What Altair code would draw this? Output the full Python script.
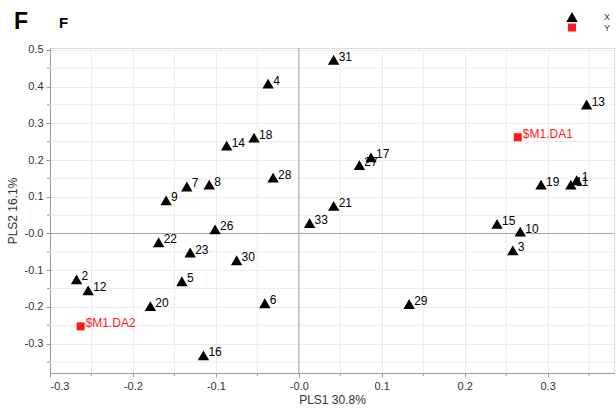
import altair as alt
import pandas as pd

# PLS scores (X block) and response loadings (Y block)
x_labels = ["1", "2", "3", "4", "5", "6", "7", "8", "9", "10", "11", "12", "13",
            "14", "15", "16", "17", "18", "19", "20", "21", "22", "23", "26",
            "27", "28", "29", "30", "31", "33"]
x_pls1 = [0.335, -0.268, 0.258, -0.037, -0.141, -0.041, -0.135, -0.108, -0.160,
          0.267, 0.328, -0.254, 0.347, -0.087, 0.239, -0.115, 0.087, -0.054,
          0.292, -0.179, 0.042, -0.169, -0.131, -0.101, 0.073, -0.031, 0.133,
          -0.075, 0.042, 0.013]
x_pls2 = [0.145, -0.125, -0.046, 0.408, -0.130, -0.190, 0.128, 0.133, 0.090,
          0.005, 0.133, -0.155, 0.351, 0.239, 0.026, -0.332, 0.207, 0.261,
          0.133, -0.198, 0.075, -0.024, -0.052, 0.011, 0.186, 0.152, -0.192,
          -0.073, 0.473, 0.028]

y_labels = ["$M1.DA1", "$M1.DA2"]
y_pls1 = [0.264, -0.263]
y_pls2 = [0.262, -0.253]

# labelled ticks and the half-step grid between them
x_ticks = [-0.3, -0.2, -0.1, 0.0, 0.1, 0.2, 0.3]
y_ticks = [-0.3, -0.2, -0.1, 0.0, 0.1, 0.2, 0.3, 0.4, 0.5]
x_minor = [-0.25, -0.15, -0.05, 0.05, 0.15, 0.25, 0.35]
y_minor = [-0.35, -0.25, -0.15, -0.05, 0.05, 0.15, 0.25, 0.35, 0.45]

df = pd.DataFrame({
    "label": x_labels + y_labels,
    "pls1": x_pls1 + y_pls1,
    "pls2": x_pls2 + y_pls2,
    "kind": ["X"] * len(x_labels) + ["Y"] * len(y_labels),
})

FONT = "Liberation Sans"
W, H = 564, 325
GRID = "#ececec"
AXIS_GREY = "#9a9a9a"

label_expr = "datum.value == 0 ? '-0.0' : replace(datum.label, '\u2212', '-')"

axis_common = dict(
    grid=True, gridColor=GRID, gridWidth=1, format=".1f",
    domainColor=AXIS_GREY, tickColor=AXIS_GREY, tickSize=4,
    labelFont=FONT, labelFontSize=11, labelColor="#333333", labelOverlap=False,
    titleFont=FONT, titleFontSize=12, titleFontWeight="normal", titleColor="#333333",
    labelExpr=label_expr,
)

x_scale = alt.Scale(domain=[-0.3, 0.38], nice=False, zero=False)
y_scale = alt.Scale(domain=[-0.38, 0.505], nice=False, zero=False)

x_enc = alt.X("pls1:Q", scale=x_scale,
              axis=alt.Axis(values=x_ticks, title="PLS1 30.8%", labelPadding=3,
                            titlePadding=3, **axis_common))
y_enc = alt.Y("pls2:Q", scale=y_scale,
              axis=alt.Axis(values=y_ticks, title="PLS2 16.1%", labelPadding=3,
                            titlePadding=5, **axis_common))

color_scale = alt.Scale(domain=["X", "Y"], range=["#000000", "#ff1a1a"])

legend = alt.Legend(orient="none", legendX=516, legendY=-37, title=None,
                    labelFont=FONT, labelFontSize=9, labelColor="#333333",
                    labelOffset=26, symbolSize=80, rowPadding=1, padding=0,
                    symbolStrokeWidth=0)

base = alt.Chart(df)

# half-step grid lines and the small ticks that go with them
xm = pd.DataFrame({"pls1": x_minor})
ym = pd.DataFrame({"pls2": y_minor})
x_minor_grid = alt.Chart(xm).mark_rule(color=GRID, strokeWidth=1).encode(x=x_enc)
y_minor_grid = alt.Chart(ym).mark_rule(color=GRID, strokeWidth=1).encode(y=y_enc)
x_minor_tick = alt.Chart(xm).mark_rule(color=AXIS_GREY, strokeWidth=1).encode(
    x="pls1:Q", y=alt.value(H), y2=alt.value(H + 3))
y_minor_tick = alt.Chart(ym).mark_rule(color=AXIS_GREY, strokeWidth=1).encode(
    y="pls2:Q", x=alt.value(-3), x2=alt.value(0))

# origin cross-hair lines
origin = pd.DataFrame({"pls1": [0.0], "pls2": [0.0]})
vline = alt.Chart(origin).mark_rule(color="#a6a6a6", strokeWidth=1).encode(x="pls1:Q")
hline = alt.Chart(origin).mark_rule(color="#a6a6a6", strokeWidth=1).encode(y="pls2:Q")

points = base.mark_point(filled=True, opacity=1).encode(
    x=x_enc,
    y=y_enc,
    shape=alt.Shape("kind:N", scale=alt.Scale(domain=["X", "Y"], range=["triangle-up", "square"]),
                    legend=legend),
    color=alt.Color("kind:N", scale=color_scale, legend=legend),
    size=alt.Size("kind:N", scale=alt.Scale(domain=["X", "Y"], range=[130, 64]), legend=None),
)

labels = base.mark_text(align="left", baseline="middle", dx=5, dy=-3,
                        font=FONT, fontSize=12).encode(
    x="pls1:Q",
    y="pls2:Q",
    text="label:N",
    color=alt.Color("kind:N", scale=color_scale, legend=None),
)

big_f = alt.Chart(pd.DataFrame({"t": ["F"]})).mark_text(
    align="left", baseline="alphabetic", font=FONT, fontSize=23, fontWeight="bold", color="#000000"
).encode(text="t:N", x=alt.value(-36), y=alt.value(-19))

small_f = alt.Chart(pd.DataFrame({"t": ["F"]})).mark_text(
    align="left", baseline="alphabetic", font=FONT, fontSize=15, fontWeight="bold", color="#000000"
).encode(text="t:N", x=alt.value(9), y=alt.value(-20))

chart = alt.layer(x_minor_grid, y_minor_grid, x_minor_tick, y_minor_tick,
                  vline, hline, points, labels, big_f, small_f).properties(
    width=W, height=H,
    autosize=alt.AutoSizeParams(type="none"),
    padding={"left": 50, "top": 48, "right": 2, "bottom": 41},
).configure_view(stroke="#cfcfcf").configure(background="white")

chart.save("out.html", embed_options={"renderer": "svg", "actions": False})
